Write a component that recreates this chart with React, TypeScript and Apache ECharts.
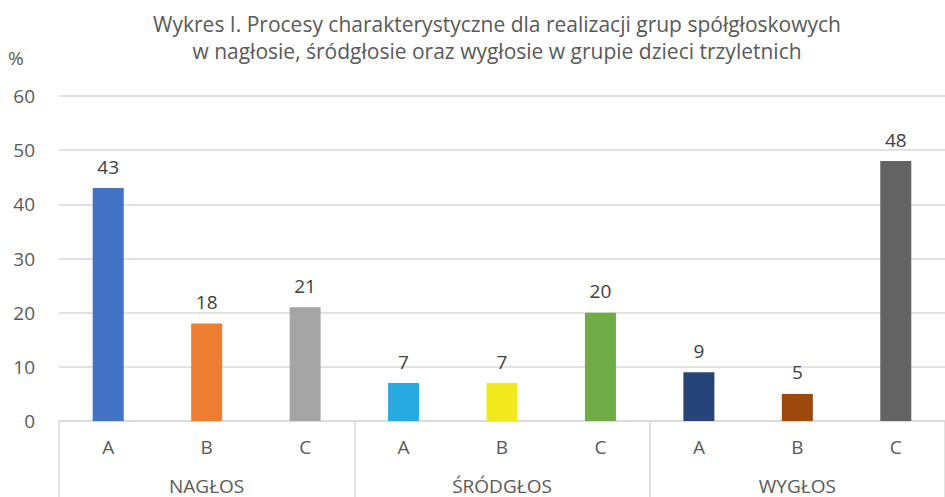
import React, { useEffect, useRef } from "react";
import * as echarts from "echarts";

const categories = ["A", "B", "C", "A", "B", "C", "A", "B", "C"];
const groups = ["NAGŁOS", "ŚRÓDGŁOS", "WYGŁOS"];
const values = [43, 18, 21, 7, 7, 20, 9, 5, 48];
const barColors = [
  "#4472C4", "#ED7D31", "#A5A5A5",
  "#29ABE2", "#F2EA1E", "#70AD47",
  "#264478", "#9E480E", "#636363",
];
const yTicks = { min: 0, max: 60, interval: 10 };
const titleText =
  "Wykres I. Procesy charakterystyczne dla realizacji grup spółgłoskowych\nw nagłosie, śródgłosie oraz wygłosie w grupie dzieci trzyletnich";

export default function App() {
  const ref = useRef<HTMLDivElement>(null);
  useEffect(() => {
    if (!ref.current) return;
    const chart = echarts.init(ref.current, undefined, { renderer: "svg" });
    const font = "'Open Sans', 'Noto Sans', sans-serif";
    const grey = "#d9d9d9";
    chart.setOption({
      animation: false,
      textStyle: { fontFamily: font },
      title: {
        text: titleText,
        left: 492,
        textAlign: "center",
        top: 5,
        textStyle: {
          fontFamily: font,
          fontSize: 21,
          fontWeight: "normal",
          color: "#595959",
          lineHeight: 27,
        },
      },
      graphic: [
        {
          type: "text",
          left: 8,
          top: 48,
          style: { text: "%", fontSize: 19, fill: "#595959", fontFamily: font },
        },
      ],
      grid: { left: 59, right: -4, top: 96, bottom: 76, containLabel: false },
      xAxis: [
        {
          type: "category",
          data: categories,
          position: "bottom",
          axisTick: { show: false },
          axisLine: { show: true, lineStyle: { color: grey, width: 1.5 } },
          axisLabel: { color: "#595959", fontSize: 19, margin: 16, interval: 0 },
        },
        {
          type: "category",
          data: groups,
          position: "bottom",
          boundaryGap: true,
          axisLine: { show: false },
          axisTick: {
            show: true,
            interval: 0,
            length: 80,
            lineStyle: { color: grey, width: 1.5 },
          },
          axisLabel: { color: "#595959", fontSize: 19, margin: 55, interval: 0 },
        },
      ],
      yAxis: {
        type: "value",
        min: yTicks.min,
        max: yTicks.max,
        interval: yTicks.interval,
        axisLine: { show: false },
        axisTick: { show: false },
        axisLabel: { color: "#595959", fontSize: 19, margin: 24 },
        splitLine: { lineStyle: { color: grey, width: 1.5 } },
      },
      series: [
        {
          type: "bar",
          xAxisIndex: 0,
          barWidth: 31,
          data: values.map((v, i) => ({ value: v, itemStyle: { color: barColors[i] } })),
          label: {
            show: true,
            position: "top",
            distance: 12,
            fontSize: 19,
            color: "#404040",
          },
        },
      ],
    });
    return () => chart.dispose();
  }, []);
  return (
    <div
      ref={ref}
      style={{ position: "fixed", left: 0, top: 0, width: 945, height: 497, background: "#fff" }}
    />
  );
}
